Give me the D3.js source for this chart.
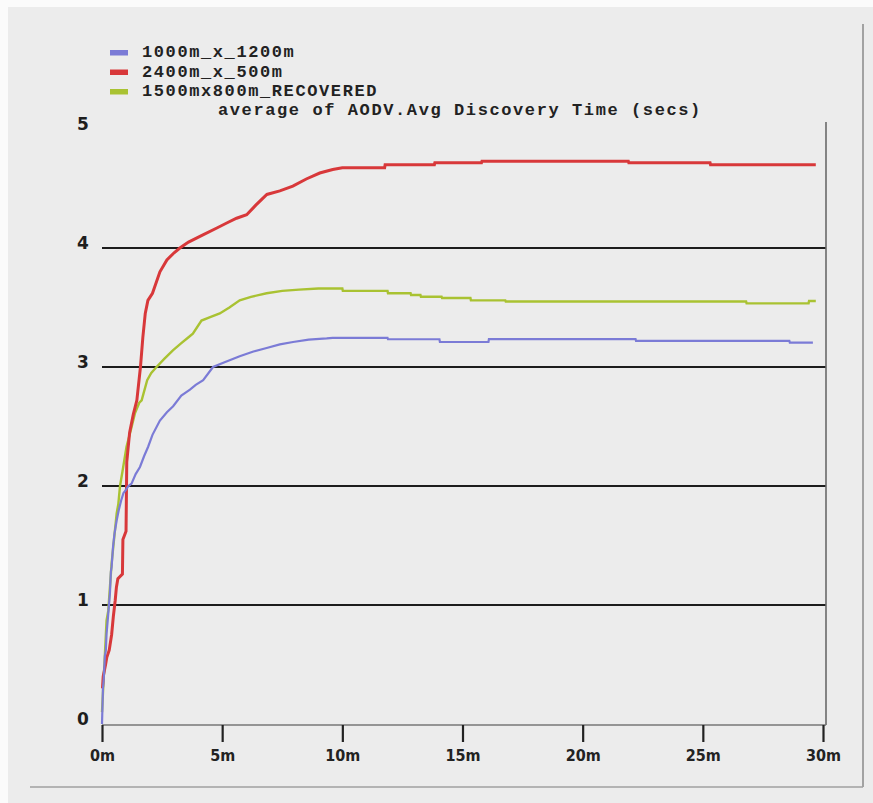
<!DOCTYPE html>
<html>
<head>
<meta charset="utf-8">
<script src="https://cdn.jsdelivr.net/npm/d3@7/dist/d3.min.js"></script>
<style>
  html, body { margin: 0; padding: 0; background: #ffffff; }
  svg { display: block; }
</style>
</head>
<body>
<svg id="chart" width="873" height="803"></svg>
<script>
// Average AODV route discovery time (seconds) over a 30 minute simulation,
// for three scenario topologies. Each series: [minutes, seconds].
const seriesNames = ["1000m_x_1200m", "2400m_x_500m", "1500mx800m_RECOVERED"];
const seriesColors = ["#7b7bd6", "#d8383a", "#a9c232"];

const blueSeries = [
  [0,0.0],[0.02,0.15],[0.04,0.3],[0.07,0.37],[0.12,0.57],[0.16,0.62],[0.19,0.76],
  [0.25,0.9],[0.33,1.1],[0.37,1.28],[0.4,1.32],[0.46,1.49],[0.52,1.6],[0.61,1.71],
  [0.7,1.8],[0.8,1.88],[0.89,1.94],[1.0,1.97],[1.1,2.0],[1.23,2.02],[1.4,2.1],
  [1.58,2.16],[1.75,2.25],[1.92,2.33],[2.1,2.43],[2.41,2.55],[2.7,2.62],[2.96,2.67],
  [3.3,2.76],[3.66,2.81],[3.9,2.85],[4.21,2.89],[4.62,3.0],[5.1,3.04],[5.73,3.09],
  [6.3,3.13],[6.85,3.16],[7.4,3.19],[7.95,3.21],[8.6,3.23],[9.35,3.24],[9.6,3.245],
  [11.88,3.245],[11.9,3.233],[14.04,3.233],[14.06,3.21],[16.08,3.21],[16.1,3.235],
  [22.2,3.235],[22.22,3.22],[28.6,3.22],[28.62,3.205],[29.58,3.205]
];

const redSeries = [
  [0.02,0.3],[0.05,0.4],[0.1,0.45],[0.15,0.5],[0.2,0.56],[0.3,0.62],[0.4,0.75],
  [0.47,0.9],[0.55,1.04],[0.6,1.15],[0.66,1.22],[0.85,1.26],[0.87,1.55],[1.0,1.62],
  [1.03,2.2],[1.15,2.45],[1.3,2.6],[1.45,2.72],[1.6,3.0],[1.7,3.25],[1.8,3.45],
  [1.91,3.56],[2.1,3.62],[2.41,3.8],[2.7,3.9],[3.0,3.96],[3.24,4.0],[3.6,4.05],
  [4.2,4.11],[4.8,4.17],[5.19,4.21],[5.6,4.25],[6.02,4.28],[6.4,4.36],[6.86,4.45],
  [7.4,4.48],[7.94,4.52],[8.5,4.58],[9.06,4.63],[9.6,4.66],[10.0,4.675],
  [11.76,4.675],[11.78,4.70],[13.83,4.70],[13.85,4.717],[15.79,4.717],[15.81,4.73],
  [21.9,4.73],[21.92,4.717],[25.3,4.717],[25.32,4.70],[29.7,4.70]
];

const greenSeries = [
  [0,0.1],[0.05,0.3],[0.1,0.5],[0.19,0.87],[0.26,0.95],[0.33,1.15],[0.4,1.35],
  [0.5,1.55],[0.61,1.77],[0.68,1.85],[0.75,2.0],[0.85,2.12],[1.02,2.33],[1.2,2.47],
  [1.37,2.61],[1.55,2.7],[1.65,2.72],[1.88,2.89],[2.05,2.95],[2.27,3.0],[2.6,3.07],
  [2.95,3.14],[3.3,3.2],[3.6,3.25],[3.78,3.28],[4.14,3.39],[4.5,3.42],[4.9,3.45],
  [5.3,3.5],[5.73,3.56],[6.2,3.59],[6.85,3.62],[7.5,3.64],[8.2,3.65],[9.0,3.66],
  [10.0,3.66],[10.02,3.64],[11.88,3.64],[11.9,3.62],[12.84,3.62],[12.86,3.605],
  [13.25,3.605],[13.27,3.59],[14.13,3.59],[14.15,3.58],[15.33,3.58],[15.35,3.56],
  [16.78,3.56],[16.8,3.55],[26.8,3.55],[26.82,3.535],[29.4,3.535],[29.42,3.555],[29.7,3.555]
];

const xTicks = [0, 5, 10, 15, 20, 25, 30];
const yTicks = [0, 1, 2, 3, 4, 5];
const gridValues = [1, 2, 3, 4];
const chartTitle = "average of AODV.Avg Discovery Time (secs)";

const svg = d3.select("#chart");
const W = 873, H = 803;

// scanned page background
svg.append("rect").attr("width", W).attr("height", H).attr("fill", "#fbfbfb");
svg.append("rect").attr("x", 8).attr("y", 7).attr("width", W - 8).attr("height", H - 7)
  .attr("fill", "#ececec");
// outer figure frame (right and bottom edges)
svg.append("line").attr("x1", 863).attr("x2", 863).attr("y1", 24).attr("y2", 787)
  .attr("stroke", "#8a8a8a").attr("stroke-width", 1.5);
svg.append("line").attr("x1", 30).attr("x2", 863).attr("y1", 787).attr("y2", 787)
  .attr("stroke", "#a0a0a0").attr("stroke-width", 1.5);

const x = d3.scaleLinear().domain([0, 30]).range([102, 823]);
const y = d3.scaleLinear().domain([0, 5]).range([724, 129]);
const rightEdge = x.range()[1] + 3;

// horizontal grid lines
svg.append("g").selectAll("line").data(gridValues).join("line")
  .attr("x1", x(0)).attr("x2", rightEdge)
  .attr("y1", d => y(d)).attr("y2", d => y(d))
  .attr("stroke", "#1c1c1c").attr("stroke-width", 2);

// right border of the plot
svg.append("line").attr("x1", rightEdge).attr("x2", rightEdge)
  .attr("y1", y(5) - 7).attr("y2", y(0) + 1)
  .attr("stroke", "#6a6a6a").attr("stroke-width", 1.6);

// x axis
const xAxis = svg.append("g").attr("transform", `translate(0,${y(0) + 1})`)
  .call(d3.axisBottom(x).tickValues(xTicks).tickFormat(d => d + "m").tickSize(17).tickSizeOuter(0));
xAxis.select(".domain").attr("stroke", "#777").attr("stroke-width", 1.6)
  .attr("d", `M${x(0)},0H${rightEdge}`);
xAxis.selectAll(".tick line").attr("stroke", "#222").attr("stroke-width", 2.2);
xAxis.selectAll(".tick text")
  .attr("y", 25).attr("dy", "0.71em")
  .attr("fill", "#222")
  .style("font-family", "'DejaVu Sans Condensed', 'DejaVu Sans', sans-serif")
  .style("font-size", "16px").style("font-weight", "bold");

// y labels (no axis line)
svg.append("g").selectAll("text").data(yTicks).join("text")
  .attr("x", 83).attr("y", d => y(d) - 4)
  .attr("text-anchor", "middle").attr("dominant-baseline", "middle")
  .attr("fill", "#1e1e1e")
  .style("font-family", "'DejaVu Sans', sans-serif")
  .style("font-size", "17px").style("font-weight", "bold")
  .text(d => d);

// series lines
const line = d3.line().x(d => x(d[0])).y(d => y(d[1]));
const drawOrder = [
  { data: greenSeries, color: seriesColors[2], width: 2.4 },
  { data: redSeries, color: seriesColors[1], width: 3 },
  { data: blueSeries, color: seriesColors[0], width: 2.2 }
];
svg.append("g").selectAll("path").data(drawOrder).join("path")
  .attr("d", d => line(d.data))
  .attr("fill", "none")
  .attr("stroke", d => d.color)
  .attr("stroke-width", d => d.width)
  .attr("stroke-linejoin", "miter");

// legend
const monoStyle = sel => sel
  .style("font-family", "'Liberation Mono', 'Courier New', monospace")
  .style("font-size", "17px")
  .style("font-weight", "bold")
  .style("letter-spacing", "1.6px")
  .attr("fill", "#222");
const legend = svg.append("g");
seriesNames.forEach((name, i) => {
  const rowY = 57 + i * 19.5;
  legend.append("rect").attr("x", 110).attr("y", rowY - 7).attr("width", 18).attr("height", 5.5)
    .attr("fill", seriesColors[i]);
  legend.append("text").attr("x", 142).attr("y", rowY).text(name).call(monoStyle);
});
svg.append("text").attr("x", 218).attr("y", 115).text(chartTitle).call(monoStyle);
</script>
</body>
</html>
